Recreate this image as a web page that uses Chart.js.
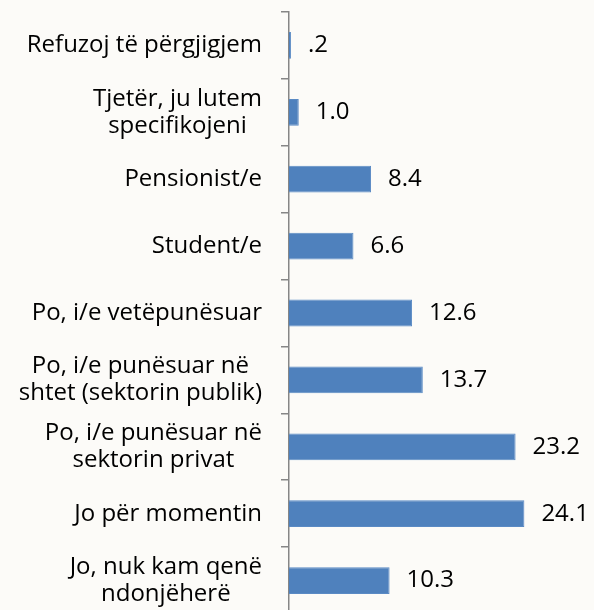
<!DOCTYPE html>
<html>
<head>
<meta charset="utf-8">
<script src="https://cdn.jsdelivr.net/npm/chart.js@4/dist/chart.umd.min.js"></script>
<style>
    html, body { margin: 0; padding: 0; background: #fcfbf8; overflow: hidden; }
    #wrap { width: 594px; height: 614px; }
</style>
</head>
<body>
<div id="wrap"><canvas id="myChart"></canvas></div>
<script>
// categories, top to bottom
const categories = [
    ['Refuzoj të përgjigjem'],
    ['Tjetër, ju lutem', 'specifikojeni'],
    ['Pensionist/e'],
    ['Student/e'],
    ['Po, i/e vetëpunësuar'],
    ['Po, i/e punësuar në', 'shtet (sektorin publik)'],
    ['Po, i/e punësuar në', 'sektorin privat'],
    ['Jo për momentin'],
    ['Jo, nuk kam qenë', 'ndonjëherë']
];
const values = [0.2, 1.0, 8.4, 6.6, 12.6, 13.7, 23.2, 24.1, 10.3];

const FONT = '"Open Sans", sans-serif';
const FONT_SIZE = 24;

function fmt(v) {
    const s = v.toFixed(1);
    return v < 1 ? s.replace(/^0/, '') : s;
}

// category labels: right aligned block, lines centred on the widest line
const catLabels = {
    id: 'catLabels',
    afterDraw(chart) {
        const ctx = chart.ctx;
        const y = chart.scales.y;
        const right = y.right - 8 - 19;
        const lineH = 27;
        ctx.save();
        ctx.font = FONT_SIZE + 'px ' + FONT;
        ctx.fillStyle = '#000';
        ctx.textAlign = 'center';
        ctx.textBaseline = 'middle';
        categories.forEach((lines, i) => {
            const cy = y.getPixelForValue(i);
            const w = Math.max(...lines.map(l => ctx.measureText(l).width));
            const cx = right - w / 2;
            const top = cy - (lines.length - 1) * lineH / 2;
            lines.forEach((l, j) => ctx.fillText(l, cx, top + j * lineH));
        });
        ctx.restore();
    }
};

// value labels at the end of each bar
const valueLabels = {
    id: 'valueLabels',
    afterDatasetsDraw(chart) {
        const ctx = chart.ctx;
        const meta = chart.getDatasetMeta(0);
        ctx.save();
        ctx.font = FONT_SIZE + 'px ' + FONT;
        ctx.fillStyle = '#000';
        ctx.textAlign = 'left';
        ctx.textBaseline = 'middle';
        meta.data.forEach((bar, i) => {
            ctx.fillText(fmt(values[i]), bar.x + 17, bar.y);
        });
        ctx.restore();
    }
};

const ctx = document.getElementById('myChart').getContext('2d');
new Chart(ctx, {
    type: 'bar',
    data: {
        labels: categories,
        datasets: [{
            data: values,
            backgroundColor: '#4f81bd',
            borderColor: '#5a8ac4',
            borderWidth: 1,
            barPercentage: 0.4,
            categoryPercentage: 1.0
        }]
    },
    options: {
        indexAxis: 'y',
        responsive: true,
        maintainAspectRatio: false,
        animation: false,
        layout: { padding: { top: 12, right: 12, bottom: 0, left: 0 } },
        plugins: {
            legend: { display: false },
            tooltip: { enabled: false }
        },
        scales: {
            x: {
                display: false,
                min: 0,
                max: 30
            },
            y: {
                afterFit(scale) { scale.width = 289; },
                grid: {
                    drawOnChartArea: false,
                    offset: true,
                    tickLength: 8,
                    color: '#868686',
                    lineWidth: 1.5
                },
                border: { display: true, color: '#868686', width: 1.5 },
                ticks: { display: false }
            }
        }
    },
    plugins: [valueLabels, catLabels]
});
</script>
</body>
</html>
